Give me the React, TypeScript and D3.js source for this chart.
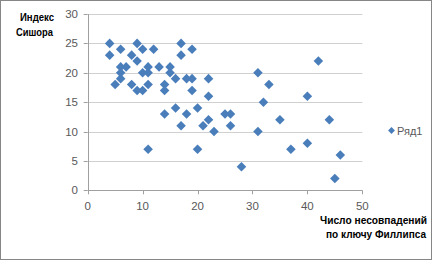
import React from "react";
import * as d3 from "d3";

const xValues = [4,4,6,5,6,7,6,6,8,9,9,8,9,10,10,10,11,11,11,12,13,15,15,14,14,14,16,17,17,19,18,19,19,16,18,17,20,22,22,22,21,23,11,20,32,25,26,26,31,28,42,31,33,40,35,44,37,40,46,45];
const yValues = [25,23,24,18,21,21,20,19,23,25,22,18,17,24,20,17,18,20,21,24,21,21,20,18,17,13,19,25,23,24,19,19,17,14,13,11,14,19,16,12,11,10,7,7,15,13,13,11,10,4,22,20,18,16,12,12,7,8,6,2];
const xTicks = [0,10,20,30,40,50];
const yTicks = [0,5,10,15,20,25,30];
const seriesName = "Ряд1";
const yTitle = ["Индекс", "Сишора"];
const xTitle = ["Число несовпадений", "по ключу Филлипса"];

const W = 435, H = 262;
const FONT = "'Liberation Sans', Arial, sans-serif";

export default function App() {
  const x = d3.scaleLinear().domain([0, 50]).range([87.7, 362.3]);
  const y = d3.scaleLinear().domain([0, 30]).range([190.3, 14]);
  const diamond = d3.symbol().type(d3.symbolDiamond2).size(58)();
  const legendDiamond = d3.symbol().type(d3.symbolDiamond2).size(30)();
  const pts = xValues.map((v, i) => [v, yValues[i]]);
  return (
    <svg width={W} height={H} style={{ position: "absolute", left: 0, top: 0, background: "#fff" }}>
      <rect x={0.5} y={0.5} width={431} height={259} fill="#fff" stroke="#868686" strokeWidth={1} />
      {yTicks.filter(t => t > 0).map(t => (
        <line key={"g" + t} x1={x(0)} x2={x(50)} y1={Math.round(y(t)) + 0.5} y2={Math.round(y(t)) + 0.5} stroke="#d0d0d0" strokeWidth={1} />
      ))}
      <line x1={Math.round(x(0)) + 0.5} x2={Math.round(x(0)) + 0.5} y1={y(30)} y2={y(0)} stroke="#a0a0a0" />
      <line x1={x(0)} x2={x(50)} y1={Math.round(y(0)) + 0.5} y2={Math.round(y(0)) + 0.5} stroke="#a0a0a0" />
      {yTicks.map(t => (
        <g key={"yt" + t}>
          <line x1={x(0) - 4} x2={x(0)} y1={Math.round(y(t)) + 0.5} y2={Math.round(y(t)) + 0.5} stroke="#a0a0a0" />
          <text x={78} y={y(t) + 4} textAnchor="end" fontFamily={FONT} fontSize={11.5} fill="#595959">{t}</text>
        </g>
      ))}
      {xTicks.map(t => (
        <g key={"xt" + t}>
          <line x1={Math.round(x(t)) + 0.5} x2={Math.round(x(t)) + 0.5} y1={y(0)} y2={y(0) + 4} stroke="#a0a0a0" />
          <text x={x(t)} y={210} textAnchor="middle" fontFamily={FONT} fontSize={11.5} fill="#595959">{t}</text>
        </g>
      ))}
      {pts.map((p, i) => (
        <path key={i} d={diamond} transform={`translate(${x(p[0])},${y(p[1])})`} fill="#4a7ebb" />
      ))}
      <text fontFamily={FONT} fontSize={11} fontWeight="bold" fill="#000">
        <tspan x={20} y={21} textLength={34} lengthAdjust="spacingAndGlyphs">{yTitle[0]}</tspan>
        <tspan x={16} y={36} textLength={37} lengthAdjust="spacingAndGlyphs">{yTitle[1]}</tspan>
      </text>
      <text fontFamily={FONT} fontSize={11} fontWeight="bold" fill="#000">
        <tspan x={320} y={224} textLength={107} lengthAdjust="spacingAndGlyphs">{xTitle[0]}</tspan>
        <tspan x={326} y={238} textLength={100} lengthAdjust="spacingAndGlyphs">{xTitle[1]}</tspan>
      </text>
      <path d={legendDiamond} transform="translate(391.5,130.5)" fill="#4a7ebb" />
      <text x={397} y={134.5} fontFamily={FONT} fontSize={11} fill="#595959">{seriesName}</text>
    </svg>
  );
}
